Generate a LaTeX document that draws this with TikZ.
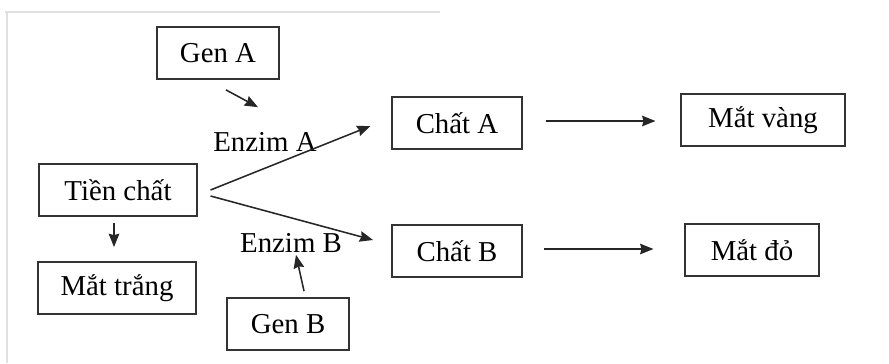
\documentclass[tikz,border=0pt]{standalone}
\usepackage{fontspec}
\setmainfont{Liberation Serif}
\usepackage{tikz}
\usetikzlibrary{arrows.meta,positioning}

\begin{document}
\begin{tikzpicture}[x=0.025cm,y=-0.025cm,>={Stealth[length=9.5pt,width=7.5pt,inset=1pt]},
  font=\fontsize{20.5}{24}\selectfont,
  box/.style={draw=black!80,line width=1.3pt,minimum height=1.3cm,inner sep=0pt},
  arr/.style={->,line width=1.1pt,draw=black!85,fill=black!85},
  lbl/.style={inner sep=0pt},
  frm/.style={draw=black!12,line width=0.8pt}]
\useasboundingbox (0,0) rectangle (889,363);
% faint frame of the scan
\draw[frm] (5,12) -- (440,12);
\draw[frm] (7,12) -- (7,363);
% boxes
\node[box,minimum width=3.05cm] (genA) at (218,53) {Gen A};
\node[box,minimum width=3.93cm] (tien) at (118,190) {Tiền chất};
\node[box,minimum width=3.95cm] (trang) at (117,288) {Mắt trắng};
\node[box,minimum width=3.05cm] (genB) at (288,324) {Gen B};
\node[box,minimum width=3.23cm] (chatA) at (457,123) {Chất A};
\node[box,minimum width=4.08cm] (vang) at (763,120) {Mắt vàng};
\node[box,minimum width=3.25cm] (chatB) at (457,251) {Chất B};
\node[box,minimum width=3.33cm] (matdo) at (752,250) {Mắt đỏ};
% enzyme labels
\node[lbl] (enzA) at (265,142) {Enzim A};
\node[lbl] (enzB) at (291,243) {Enzim B};
% arrows
\draw[arr] ([shift={(8,10)}]genA.south) -- ([shift={(-7,-25)}]enzA.north);
\draw[arr] ([shift={(16,-6)}]genB.north) -- ([shift={(5,2)}]enzB.south);
\draw[arr] ([shift={(13,0)}]tien.east) -- ([shift={(-21,3)}]chatA.west);
\draw[arr] ([shift={(13,6)}]tien.east) -- ([shift={(-18,-11)}]chatB.west);
\draw[arr] ([shift={(-4,6)}]tien.south) -- ([shift={(-3,-14)}]trang.north);
\draw[arr] ([shift={(23,-2)}]chatA.east) -- ([shift={(-25,1)}]vang.west);
\draw[arr] ([shift={(21,-2)}]chatB.east) -- ([shift={(-31,-1)}]matdo.west);
\end{tikzpicture}
\end{document}
